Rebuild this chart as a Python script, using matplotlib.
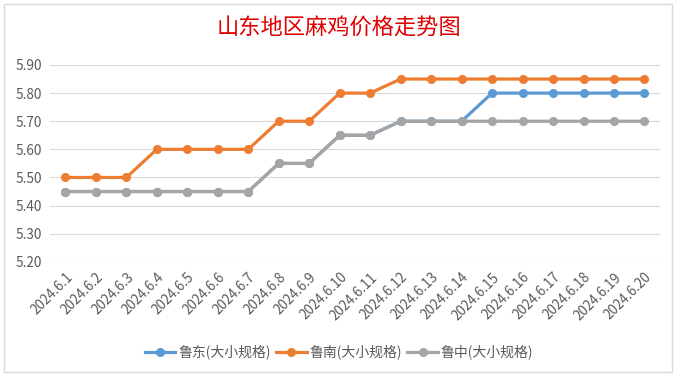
import matplotlib.pyplot as plt
from matplotlib.patches import Rectangle

plt.rcParams['font.family'] = ['Noto Sans CJK SC', 'DejaVu Sans']

dates = ["2024.6.%d" % d for d in range(1, 21)]
ludong = [5.45, 5.45, 5.45, 5.45, 5.45, 5.45, 5.45, 5.55, 5.55, 5.65,
          5.65, 5.70, 5.70, 5.70, 5.80, 5.80, 5.80, 5.80, 5.80, 5.80]
lunan = [5.50, 5.50, 5.50, 5.60, 5.60, 5.60, 5.60, 5.70, 5.70, 5.80,
         5.80, 5.85, 5.85, 5.85, 5.85, 5.85, 5.85, 5.85, 5.85, 5.85]
luzhong = [5.45, 5.45, 5.45, 5.45, 5.45, 5.45, 5.45, 5.55, 5.55, 5.65,
           5.65, 5.70, 5.70, 5.70, 5.70, 5.70, 5.70, 5.70, 5.70, 5.70]
names = ["鲁东(大小规格)", "鲁南(大小规格)", "鲁中(大小规格)"]
colors = ["#5B9BD5", "#ED7D31", "#A5A5A5"]
yticks = [5.20, 5.30, 5.40, 5.50, 5.60, 5.70, 5.80, 5.90]

fig = plt.figure(figsize=(6.78, 3.80), dpi=100)
ax = fig.add_axes([0.074, 0.311, 0.899, 0.518])

x = list(range(len(dates)))
for ys, name, c in zip([ludong, lunan, luzhong], names, colors):
    ax.plot(x, ys, "-o", color=c, lw=2.3, ms=5.5, label=name)

ax.set_xlim(-0.5, len(dates) - 0.5)
ax.set_ylim(5.2, 5.9)
ax.set_yticks(yticks)
ax.set_yticklabels(["%.2f" % v for v in yticks])
ax.set_xticks(x)
ax.set_xticklabels(dates, rotation=45, ha="right", rotation_mode="anchor")
ax.tick_params(length=0, labelsize=9.8, colors="#595959", pad=6)
ax.grid(axis="y", color="#D9D9D9", lw=0.8)
ax.set_axisbelow(True)
for s in ax.spines.values():
    s.set_visible(False)

fig.text(0.5, 0.926, "山东地区麻鸡价格走势图", color="#E00000", fontsize=16,
         ha="center", va="center")
fig.legend(loc="center", bbox_to_anchor=(0.5, 0.073), ncol=3, frameon=False,
           fontsize=10, handlelength=2.2, columnspacing=0.4, handletextpad=0.2,
           labelcolor="#595959")
fig.patches.append(Rectangle((0.006, 0.02), 0.985, 0.97, transform=fig.transFigure,
                             fill=False, edgecolor="#D9D9D9", lw=1))

fig.savefig("out.png", dpi=100)
